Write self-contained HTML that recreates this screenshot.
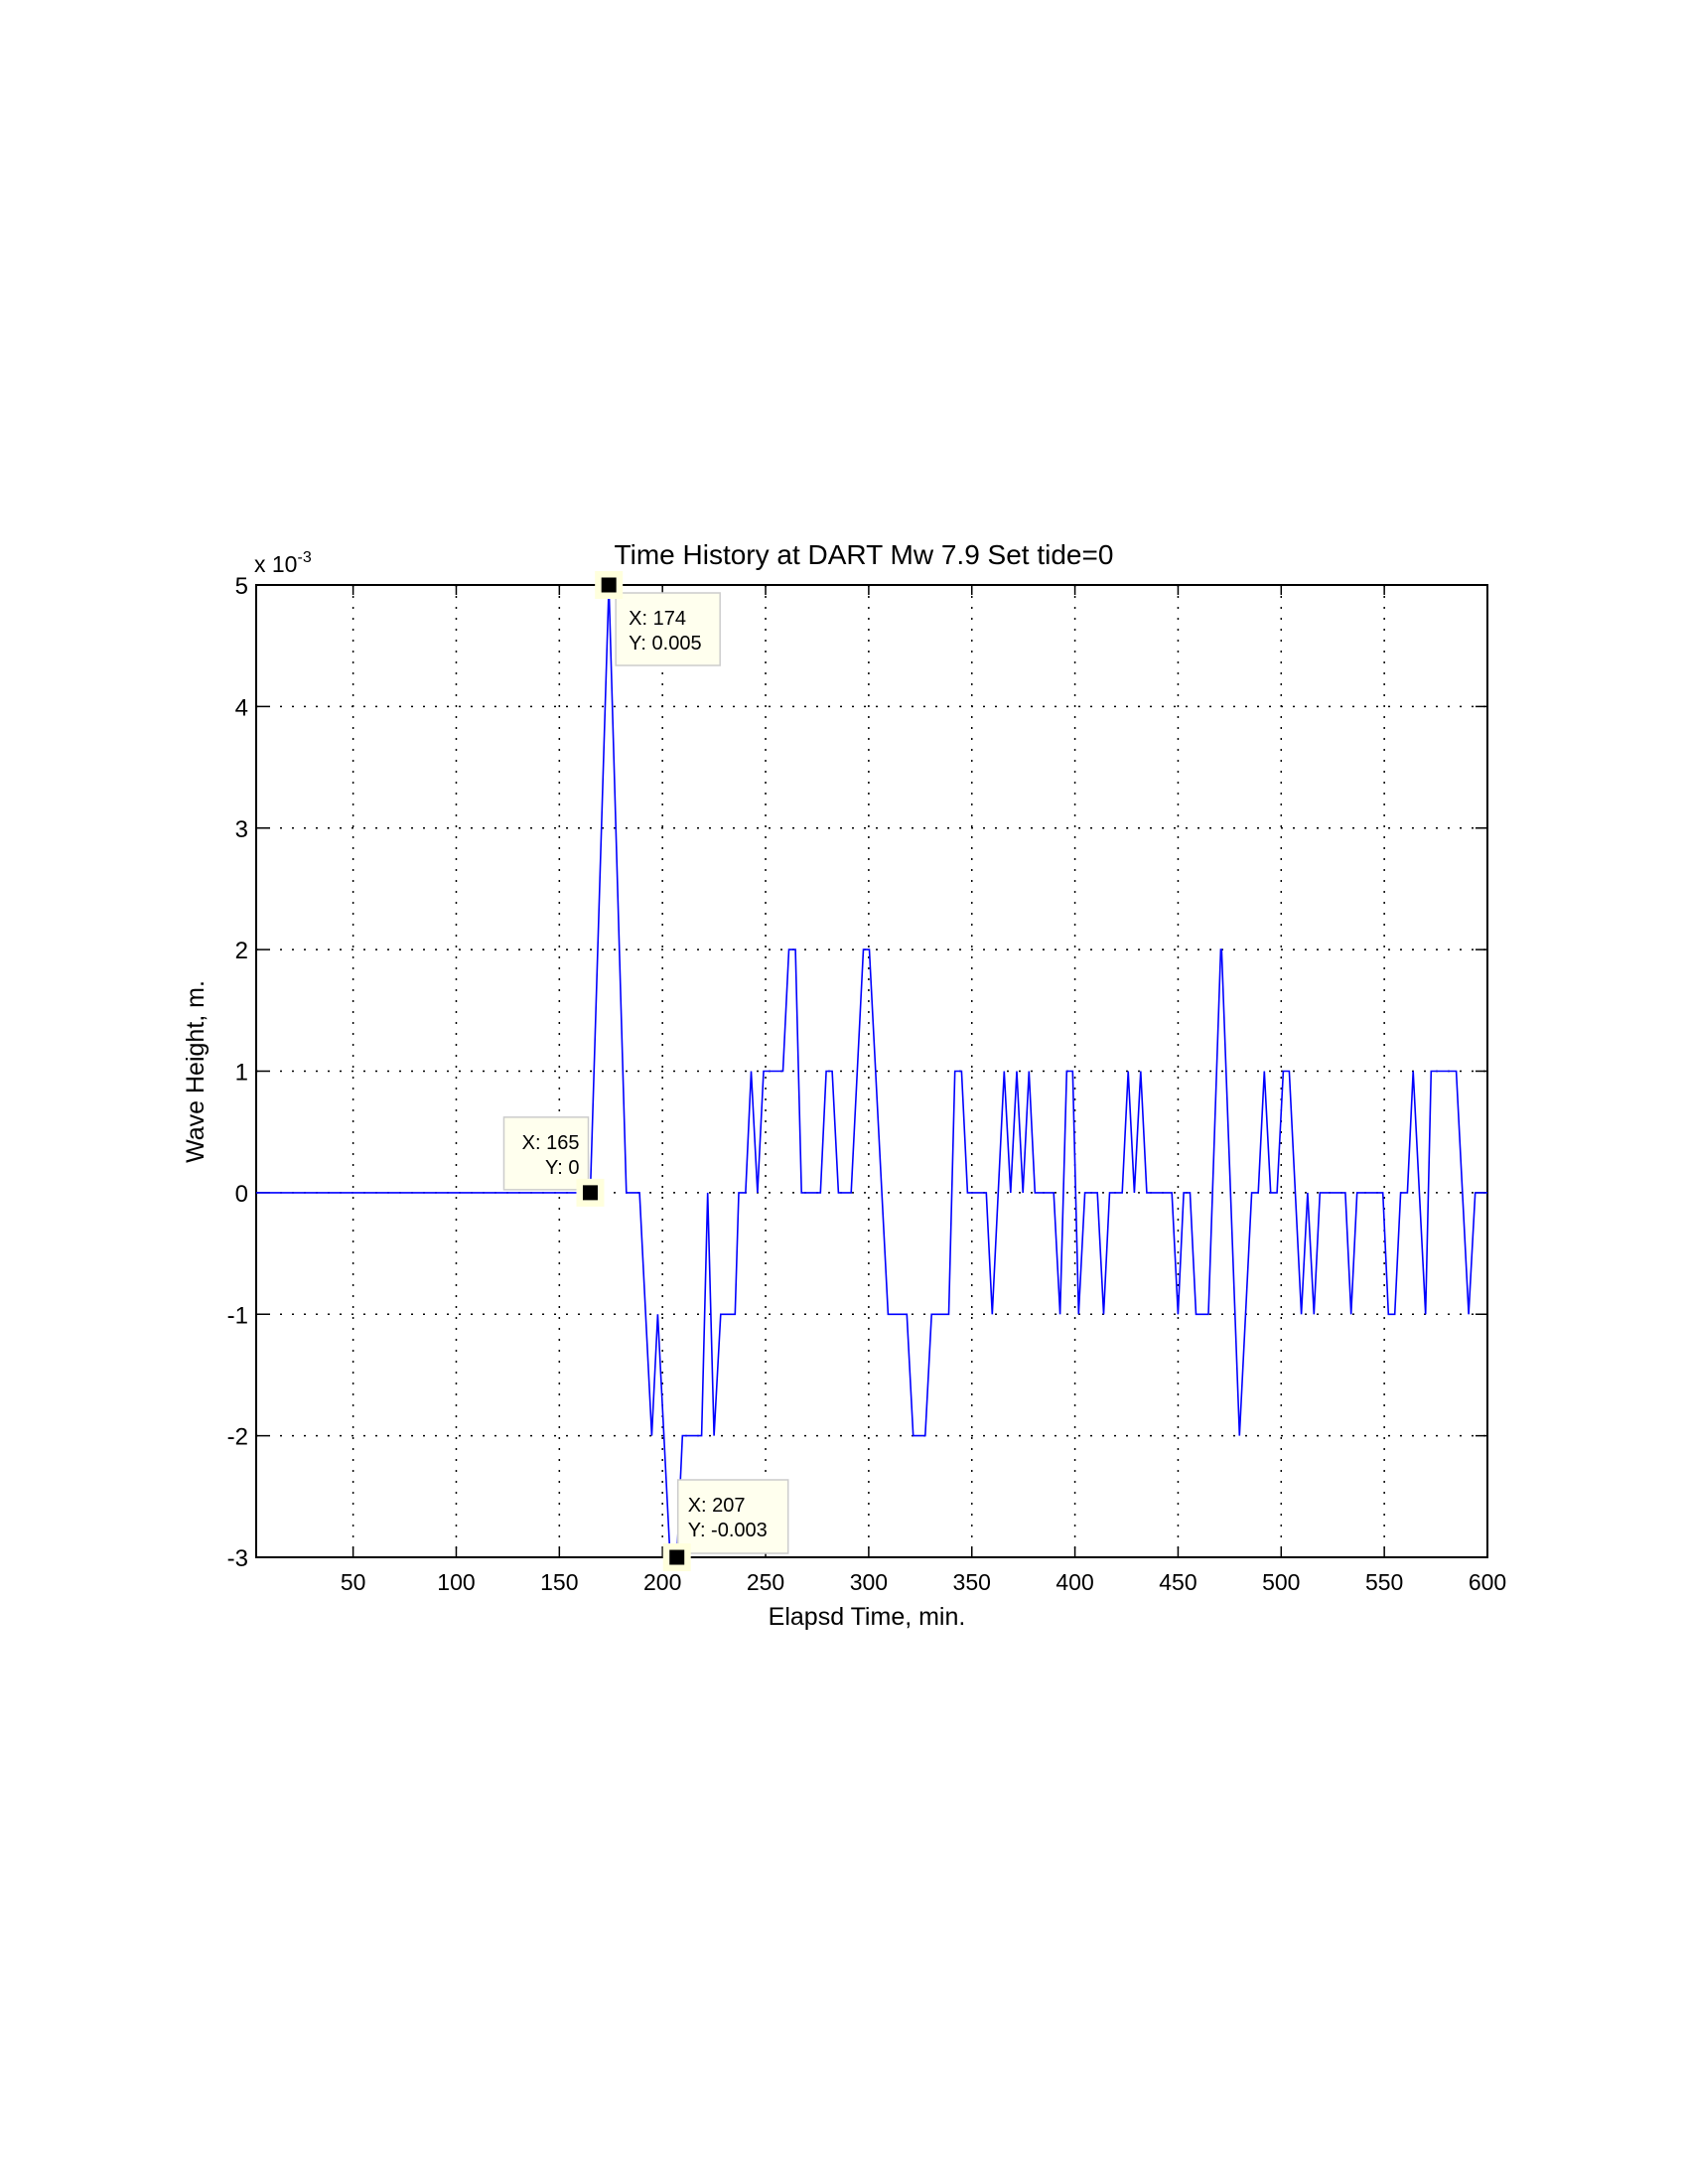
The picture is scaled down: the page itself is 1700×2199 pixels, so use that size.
<!DOCTYPE html>
<html><head><meta charset="utf-8">
<style>
html,body{margin:0;padding:0;background:#fff;}
svg{display:block;font-family:"Liberation Sans",sans-serif;}
</style></head>
<body>
<svg id="chart" width="1700" height="2199" viewBox="0 0 1700 2199" xmlns="http://www.w3.org/2000/svg">
<text x="870" y="568" font-size="28" text-anchor="middle">Time History at DART Mw 7.9 Set tide=0</text>
<text x="256" y="576" font-size="23">x 10<tspan font-size="16" dy="-10">-3</tspan></text>
<text x="873" y="1636" font-size="25" text-anchor="middle">Elapsd Time, min.</text>
<text transform="translate(205,1079) rotate(-90)" font-size="25" text-anchor="middle">Wave Height, m.</text>
<g id="grid"></g>
<g id="axes"></g>
<g id="series"></g>
<g id="tips"></g>
</svg>
<script>
const xTicks = [50,100,150,200,250,300,350,400,450,500,550,600];
const yTicks = [-3,-2,-1,0,1,2,3,4,5];
const seriesX = [3,165,174,182.5,188.9,194.8,197.7,203.7,207,209.7,219,221.9,225,228.2,235.2,237,240.3,243,246.1,249,258.4,261.3,264.5,267.4,276.6,279.4,282.3,285.3,291.5,297.4,300.3,309.4,318.5,321.6,327.4,330.5,338.8,341.8,345,347.9,357,359.9,365.7,368.8,371.8,374.8,377.7,380.6,389.7,392.8,396,398.9,401.8,404.8,410.9,413.9,416.8,422.9,425.8,428.8,431.9,434.8,447,450,452.7,455.8,458.7,464.7,470.7,471.1,479.8,485.7,488.9,491.8,494.9,498,501,503.9,509.8,512.8,515.9,518.8,531.1,533.9,536.8,549.3,552,555.1,557.9,561.2,564,570,572.7,584.9,590.9,594.1,600];
const seriesY = [0,0,5,0,0,-2,-1,-3,-3,-2,-2,0,-2,-1,-1,0,0,1,0,1,1,2,2,0,0,1,1,0,0,2,2,-1,-1,-2,-2,-1,-1,1,1,0,0,-1,1,0,1,0,1,0,0,-1,1,1,-1,0,0,-1,0,0,1,0,1,0,0,-1,0,0,-1,-1,2,2,-2,0,0,1,0,0,1,1,-1,0,-1,0,0,-1,0,0,-1,-1,0,0,1,-1,1,1,-1,0,0];
const tipX = [174,165,207];
const tipY = [5,0,-3];
const tipLabelX = ["X: 174","X: 165","X: 207"];
const tipLabelY = ["Y: 0.005","Y: 0","Y: -0.003"];

const X0=3,X1=600,PX0=258,PX1=1498,Y0=-3,Y1=5,PY0=1568,PY1=589;
const sx=v=>PX0+(v-X0)*(PX1-PX0)/(X1-X0);
const sy=v=>PY0-(v-Y0)*(PY0-PY1)/(Y1-Y0);
const NS="http://www.w3.org/2000/svg";
function mk(tag,attrs,parent){const e=document.createElementNS(NS,tag);for(const k in attrs)e.setAttribute(k,attrs[k]);parent.appendChild(e);return e;}
const grid=document.getElementById('grid'),axes=document.getElementById('axes'),series=document.getElementById('series'),tips=document.getElementById('tips');

xTicks.forEach(t=>{
  const x=sx(t);
  if(t<X1){const g=mk('line',{x1:x,x2:x,y1:PY1,y2:PY0,stroke:'#000','stroke-width':1.5,'stroke-dasharray':'2,9'},grid);
  
  }
  const a=mk('line',{x1:x,x2:x,y1:PY0,y2:PY0-10,stroke:'#000','stroke-width':1.5},axes);
  
  
  const b=mk('line',{x1:x,x2:x,y1:PY1,y2:PY1+10,stroke:'#000','stroke-width':1.5},axes);
  
  
  const l=mk('text',{x:x,y:1601,'font-size':23,'text-anchor':'middle'},axes);l.textContent=t;
  
  
});
yTicks.forEach(t=>{
  const y=sy(t);
  if(t>Y0&&t<Y1){const g=mk('line',{x1:PX0,x2:PX1,y1:y,y2:y,stroke:'#000','stroke-width':1.5,'stroke-dasharray':'2,10'},grid);
  
  }
  const a=mk('line',{x1:PX0,x2:PX0+12,y1:y,y2:y,stroke:'#000','stroke-width':1.5},axes);
  
  
  const b=mk('line',{x1:PX1,x2:PX1-12,y1:y,y2:y,stroke:'#000','stroke-width':1.5},axes);
  
  
  const l=mk('text',{x:250,y:y+9,'font-size':24,'text-anchor':'end'},axes);l.textContent=t;
  
  
});
const box=mk('rect',{x:PX0,y:PY1,width:PX1-PX0,height:PY0-PY1,fill:'none',stroke:'#000','stroke-width':2},axes);



const pts=seriesX.map((v,i)=>sx(v).toFixed(1)+','+sy(seriesY[i]).toFixed(1)).join(' ');
const line=mk('polyline',{points:pts,fill:'none',stroke:'#0000ff','stroke-width':1.6,'stroke-linejoin':'miter'},series);



const boxes=[{dx:7,dy:8,w:105,h:73,anchor:'start',tx:13,side:1},{dx:-87,dy:-76,w:85,h:73,anchor:'end',tx:76,side:-1},{dx:1,dy:-78,w:111,h:74,anchor:'start',tx:10,side:1}];
tipX.forEach((v,i)=>{
  const x=sx(v),y=sy(tipY[i]),b=boxes[i];
  const r=mk('rect',{x:x+b.dx,y:y+b.dy,width:b.w,height:b.h,fill:'#ffffee',stroke:'#cccccc','stroke-width':1.5},tips);
  
  
  const t1=mk('text',{x:x+b.dx+b.tx,y:y+b.dy+32,'font-size':20,'text-anchor':b.anchor},tips);t1.textContent=tipLabelX[i];
  
  
  const t2=mk('text',{x:x+b.dx+b.tx,y:y+b.dy+57,'font-size':20,'text-anchor':b.anchor},tips);t2.textContent=tipLabelY[i];
  
  
  const bg=mk('rect',{x:x-14,y:y-14,width:28,height:28,fill:'#ffffdd'},tips);
  
  
  const m=mk('rect',{x:x-7.5,y:y-7.5,width:15,height:15,fill:'#000'},tips);
  
  
});
</script>
</body></html>
